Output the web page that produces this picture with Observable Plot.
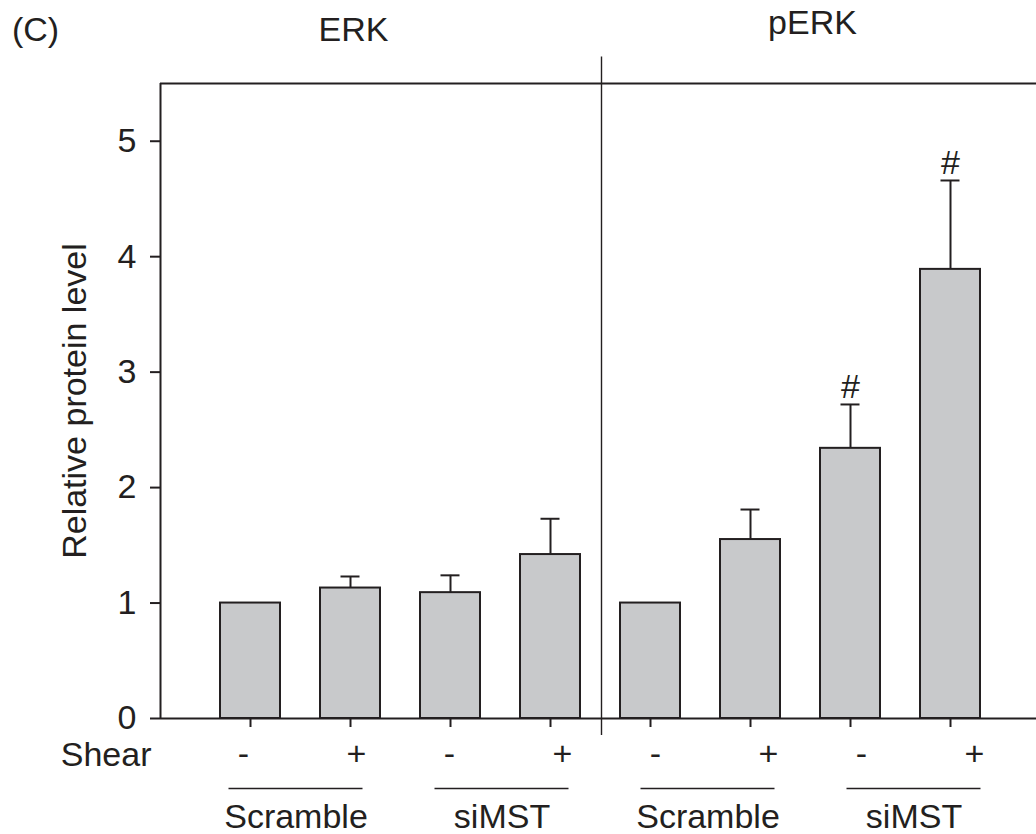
<!DOCTYPE html>
<html><head><meta charset="utf-8">
<script src="https://cdn.jsdelivr.net/npm/d3@7"></script>
<script src="https://cdn.jsdelivr.net/npm/@observablehq/plot@0.6"></script>
<style>
html,body{margin:0;padding:0;background:#fff;}
#chart svg{display:block;}
</style></head><body><div id="chart"></div>
<script>
// ---- data ----
const panelLabel = "(C)";
const panels = ["ERK", "pERK"];
const groups = ["Scramble", "siMST", "Scramble", "siMST"];
const shear = ["-", "+", "-", "+", "-", "+", "-", "+"];
const means = [1.00, 1.13, 1.09, 1.42, 1.00, 1.55, 2.34, 3.89];
const errors = [0, 0.10, 0.15, 0.31, 0, 0.26, 0.38, 0.77];
const signif = ["", "", "", "", "", "", "#", "#"];
const yTicks = [0, 1, 2, 3, 4, 5];
const yLabel = "Relative protein level";
const rowLabel = "Shear";

// ---- style / layout ----
const ink = "#231f20";
const barFill = "#c8c9cb";
const font = "'Liberation Sans', Arial, Helvetica, sans-serif";
const fs = 34;
const halfBar = 0.3, halfCap = 0.095, halfLine = 0.67;

const bars = means.map((v, i) => ({i, v, e: errors[i], shear: shear[i], mark: signif[i]}));
const errBars = bars.filter(d => d.e > 0);
const signX = d => d.i - 0.07 + 0.03 * d.i + (d.shear === "+" ? 0.1 : 0);
const groupRows = groups.map((g, k) => ({g, cx: 2 * k + 0.455 + 0.06 * k}));
const panelRows = panels.map((p, k) => ({p, cx: 4 * k + 1.5 + (k === 0 ? -0.47 : 0.12), dy: k === 0 ? -43 : -50}));

const chart = Plot.plot({
  width: 1036,
  height: 834,
  marginLeft: 160,
  marginRight: 0,
  marginTop: 83,
  marginBottom: 116,
  style: {fontFamily: font, fontSize: fs + "px", color: ink, background: "#fff", overflow: "visible"},
  x: {type: "linear", domain: [-0.9, 7.86]},
  y: {domain: [0, 5.5]},
  marks: [
    // bars
    Plot.rect(bars, {x1: d => d.i - halfBar, x2: d => d.i + halfBar, y1: () => 0, y2: "v",
      fill: barFill, stroke: ink, strokeWidth: 2}),
    // error bars
    Plot.ruleX(errBars, {x: "i", y1: "v", y2: d => d.v + d.e, stroke: ink, strokeWidth: 2}),
    Plot.ruleY(errBars, {y: d => d.v + d.e, x1: d => d.i - halfCap, x2: d => d.i + halfCap, stroke: ink, strokeWidth: 2}),
    // significance marks
    Plot.text(bars.filter(d => d.mark), {x: "i", y: d => d.v + d.e, text: "mark", dy: -6,
      lineAnchor: "bottom", fontSize: fs, fill: ink}),
    // frame lines
    Plot.ruleY([5.5], {stroke: ink, strokeWidth: 2}),
    Plot.ruleY([0], {stroke: ink, strokeWidth: 2}),
    Plot.ruleX([-0.9], {stroke: ink, strokeWidth: 2}),
    // divider between panels
    Plot.ruleX([3.51], {y1: () => 5.73, y2: () => -0.147, stroke: ink, strokeWidth: 1.4}),
    // axes
    Plot.axisY({ticks: yTicks, tickSize: 10, tickPadding: 14, fontSize: fs, label: null,
      stroke: ink, strokeWidth: 2, fill: ink, tickFormat: d => d}),
    Plot.axisX({ticks: d3.range(8), tickSize: 9, tickFormat: () => "", label: null, stroke: ink, strokeWidth: 2}),
    // y label
    Plot.text([yLabel], {frameAnchor: "left", rotate: -90, dx: -85, textAnchor: "middle", lineAnchor: "middle", fontSize: fs, fill: ink}),
    // panel label and panel titles
    Plot.text([panelLabel], {frameAnchor: "top-left", dx: -125, dy: -43, textAnchor: "middle", lineAnchor: "bottom", fontSize: fs, fill: ink}),
    ...panelRows.map(r => Plot.text([r], {x: "cx", y: () => 5.5, text: "p", dy: r.dy, textAnchor: "middle", lineAnchor: "bottom", fontSize: fs, fill: ink})),
    // shear row
    Plot.text([rowLabel], {frameAnchor: "bottom-left", dx: -9, dy: 47, textAnchor: "end", lineAnchor: "bottom", fontSize: fs, fill: ink}),
    Plot.text(bars, {x: signX, y: () => 0, text: "shear", dy: 46, lineAnchor: "bottom", fontSize: fs, fill: ink}),
    // group underlines and labels
    Plot.ruleY(groupRows, {y: () => 0, x1: d => d.cx - halfLine, x2: d => d.cx + halfLine, dy: 70, stroke: ink, strokeWidth: 1.5}),
    Plot.text(groupRows, {x: "cx", y: () => 0, text: "g", dy: 109, lineAnchor: "bottom", fontSize: fs, fill: ink})
  ]
});
document.getElementById("chart").appendChild(chart);
</script>
</body></html>
